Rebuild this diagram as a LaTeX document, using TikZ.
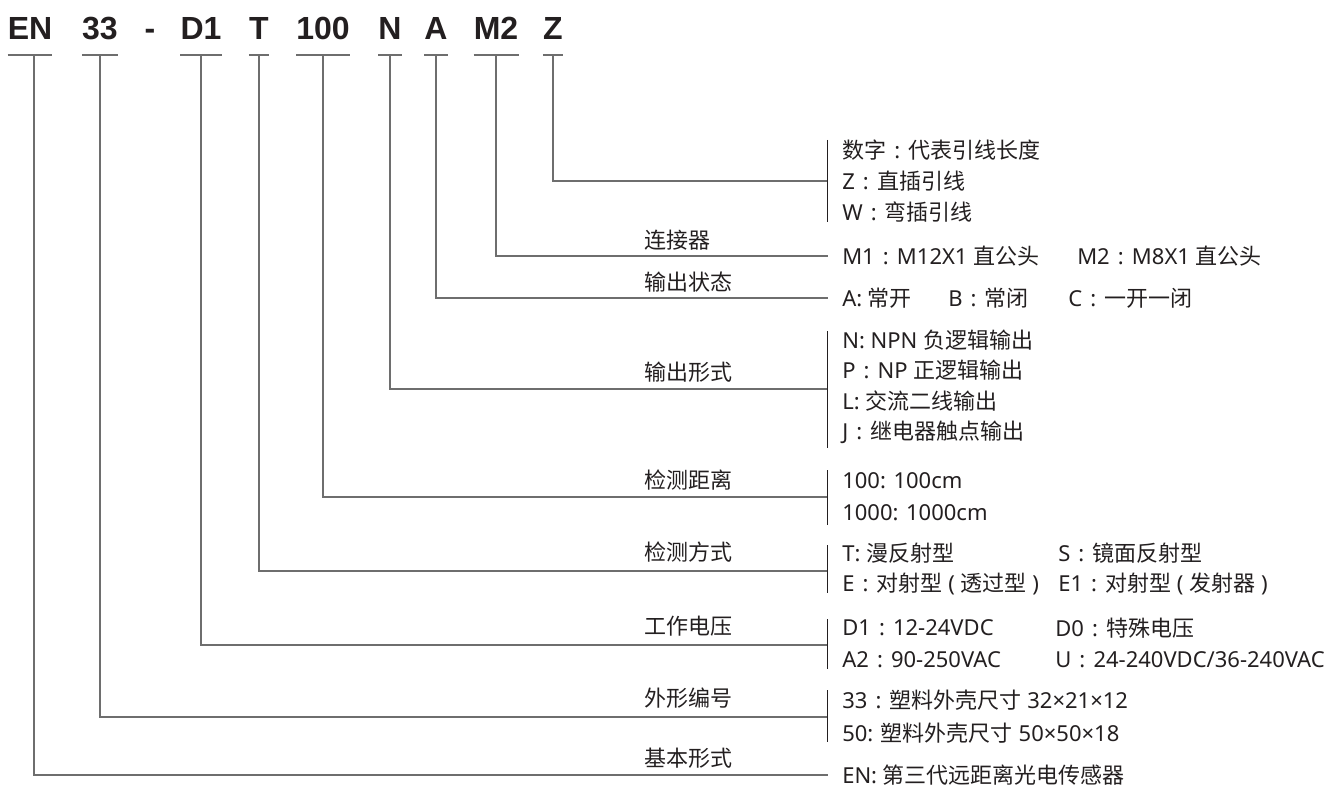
\documentclass[tikz,border=0pt]{standalone}
\usepackage{fontspec}
\setmainfont{Noto Sans}
\newfontfamily\cjk{Noto Sans CJK SC}
\newfontfamily\codefont{Liberation Sans}
\newcommand{\zh}[1]{{\cjk #1}}
\newcommand{\fc}{\hspace{0.37em}:\hspace{0.37em}}
\definecolor{ink}{HTML}{231F20}
\definecolor{rulegray}{HTML}{6E6E6E}
\tikzset{
  code/.style={font=\codefont\bfseries\fontsize{24}{28}\selectfont, text=ink, inner sep=0pt, anchor=base},
  group/.style={font=\cjk\fontsize{16.5}{20}\selectfont, text=ink, inner sep=0pt, anchor=west},
  item/.style={font=\fontsize{16.5}{20}\selectfont, text=ink, inner sep=0pt, anchor=west},
  link/.style={draw=rulegray, line width=0.9pt},
  brk/.style={draw=ink, line width=0.7pt},
}
\begin{document}
\begin{tikzpicture}[x=0.75pt,y=-0.75pt]
\useasboundingbox (0,0) rectangle (1344,788);

% model code
\node[code] (cEN)  at ( 30,40) {EN};
\node[code] (c33)  at (100,40) {33};
\node[code] (cdash) at (150,40) {-};
\node[code] (cD1)  at (201,40) {D1};
\node[code] (cT)   at (259,40) {T};
\node[code] (c100) at (323,40) {100};
\node[code] (cN)   at (390,40) {N};
\node[code] (cA)   at (436,40) {A};
\node[code] (cM2)  at (496,40) {M2};
\node[code] (cZ)   at (553,40) {Z};

\coordinate (ul) at (0,55);
\foreach \c in {cEN,c33,cD1,cT,c100,cN,cA,cM2,cZ}
{
    \draw[link] (\c.west |- ul) -- (\c.east |- ul);
}

% ends of the leaders
\coordinate (eZ)   at (828,181);
\coordinate (eM2)  at (828,256);
\coordinate (eA)   at (828,298);
\coordinate (eN)   at (828,389);
\coordinate (e100) at (828,497);
\coordinate (eT)   at (828,571);
\coordinate (eD1)  at (828,645);
\coordinate (e33)  at (828,717);
\coordinate (eEN)  at (828,775);

\draw[link] ([xshift=3pt]cEN.south |- ul) |- (eEN);
\draw[link] (c33.south |- ul) |- (e33);
\draw[link] (cD1.south |- ul) |- (eD1);
\draw[link] (cT.south |- ul) |- (eT);
\draw[link] (c100.south |- ul) |- (e100);
\draw[link] (cN.south |- ul) |- (eN);
\draw[link] (cA.south |- ul) |- (eA);
\draw[link] (cM2.south |- ul) |- (eM2);
\draw[link] (cZ.south |- ul) |- (eZ);

% group names
\node[group] (gM2)  at (644,240) {连接器};
\node[group] (gA)   at (644,282) {输出状态};
\node[group] (gN)   at (644,372) {输出形式};
\node[group] (g100) at (644,480) {检测距离};
\node[group] (gT)   at (644,552) {检测方式};
\node[group] (gD1)  at (644,626) {工作电压};
\node[group] (g33)  at (644,698) {外形编号};
\node[group] (gEN)  at (644,758) {基本形式};

% brackets
\draw[brk] (827,140) -- (827,222);
\draw[brk] (827,331) -- (827,448);
\draw[brk] (827,470) -- (827,525);
\draw[brk] (827,545) -- (827,593);
\draw[brk] (827,619) -- (827,669);
\draw[brk] (827,690) -- (827,742);

% choices
\node[item] (iZa) at (842,150) {\zh{数字}\fc\zh{代表引线长度}};
\node[item] (iZb) at (842,181) {Z\fc\zh{直插引线}};
\node[item] (iZc) at (842,212) {W\fc\zh{弯插引线}};

\node[item] (iM1) at (842,256) {M1\fc M12X1 \zh{直公头}};
\node[item] (iM2) at (1077,256) {M2\fc M8X1 \zh{直公头}};

\node[item] (iAa) at (842,298) {A: \zh{常开}};
\node[item] (iAb) at (948,298) {B\fc\zh{常闭}};
\node[item] (iAc) at (1068,298) {C\fc\zh{一开一闭}};

\node[item] (iNa) at (842,340) {N: NPN \zh{负逻辑输出}};
\node[item] (iNb) at (842,370) {P\fc NP \zh{正逻辑输出}};
\node[item] (iNc) at (842,401) {L: \zh{交流二线输出}};
\node[item] (iNd) at (842,432) {J\fc\zh{继电器触点输出}};

\node[item] (iDa) at (842,481) {100: 100cm};
\node[item] (iDb) at (842,513) {1000: 1000cm};

\node[item] (iTa) at (842,553) {T: \zh{漫反射型}};
\node[item] (iTb) at (1058,553) {S\fc\zh{镜面反射型}};
\node[item] (iTc) at (842,584) {E\fc\zh{对射型} ( \zh{透过型} )};
\node[item] (iTd) at (1058,584) {E1\fc\zh{对射型} ( \zh{发射器} )};

\node[item] (iVa) at (842,628) {D1\fc 12-24VDC};
\node[item] (iVb) at (1055,628) {D0\fc\zh{特殊电压}};
\node[item] (iVc) at (842,660) {A2\fc 90-250VAC};
\node[item] (iVd) at (1055,660) {U\fc 24-240VDC/36-240VAC};

\node[item] (iSa) at (842,700) {33\fc\zh{塑料外壳尺寸} 32×21×12};
\node[item] (iSb) at (842,733) {50: \zh{塑料外壳尺寸} 50×50×18};

\node[item] (iEN) at (842,775) {EN: \zh{第三代远距离光电传感器}};

\end{tikzpicture}
\end{document}
